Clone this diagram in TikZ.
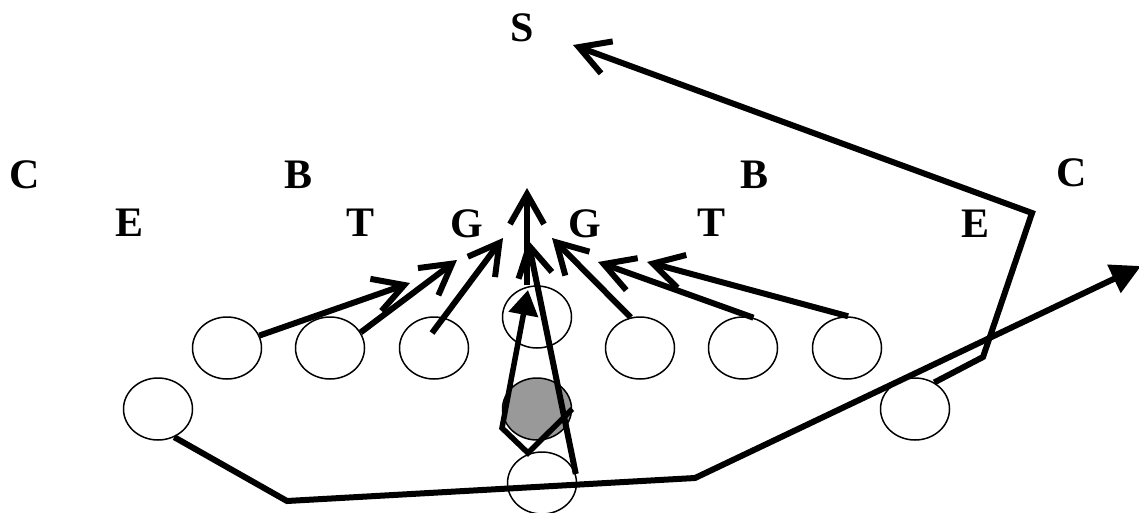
\documentclass[tikz,border=0pt]{standalone}
\usepackage{fontspec}
\setmainfont{Liberation Serif}
\usetikzlibrary{shapes.geometric,arrows.meta,calc}

\begin{document}
\begin{tikzpicture}[x=1pt,y=-1pt,
    player/.style={ellipse,draw,line width=1.5pt,minimum width=69pt,minimum height=62pt,inner sep=0pt},
    ball/.style={player,fill=black!40},
    letter/.style={font=\fontsize{42}{50}\selectfont\bfseries,inner sep=0pt},
    run/.style={line width=6pt,-{Straight Barb[length=30pt,width=34pt]}},
    route/.style={line width=6pt,-{Triangle[length=30pt,width=30pt]}}]
    \useasboundingbox (0,0) rectangle (1139,513);

    % Defense
    \node[letter] (ss) at (522,28) {S};
    \node[letter] (cl) at (25,175) {C};
    \node[letter] (bl) at (299,175) {B};
    \node[letter] (br) at (754,175) {B};
    \node[letter] (cr) at (1072,173) {C};
    \node[letter] (el) at (130,223) {E};
    \node[letter] (tl) at (361,223) {T};
    \node[letter] (gl) at (467,224) {G};
    \node[letter] (gr) at (585,224) {G};
    \node[letter] (tr) at (711,223) {T};
    \node[letter] (er) at (975,224) {E};

    % Offense
    \node[player] (l1) at (227,348) {};
    \node[player] (l2) at (330,348) {};
    \node[player] (l3) at (434,348) {};
    \node[player] (cn) at (537,317) {};
    \node[player] (r1) at (640,348) {};
    \node[player] (r2) at (743,348) {};
    \node[player] (r3) at (847,348) {};
    \node[player] (wl) at (158,409) {};
    \node[player] (wr) at (915,409) {};
    \node[ball] (qb) at (537,409) {};
    \node[player] (fb) at (542,483) {};

    % Route points
    \coordinate (t1) at (410,283);
    \coordinate (t2) at (457,260);
    \coordinate (t3) at (503,238);
    \coordinate (t4) at (527,188);
    \coordinate (t5) at (528,240);
    \coordinate (u1) at (552,238);
    \coordinate (u2) at (598,262);
    \coordinate (u3) at (647,262);
    \coordinate (k1) at (528,453);
    \coordinate (k2) at (502,428);
    \coordinate (qt) at (528,290);
    \coordinate (s1) at (983,357);
    \coordinate (s2) at (1032,213);
    \coordinate (st) at (573,45);
    \coordinate (b1) at (287,501);
    \coordinate (b2) at (695,478);
    \coordinate (bt) at (1141,266);

    % Blocking
    \draw[run] (l1.21) -- (t1);
    \draw[run] (l2.27) -- (t2);
    \draw[run] ($(l3)+(-2,-15)$) -- (t3);
    \draw[run] (cn.north -| t4) -- (t4);
    \draw[run] (r1.107) -- (u1);
    \draw[run] (r2.71) -- (u2);
    \draw[run] (r3.88) -- (u3);

    % Backfield
    \draw[run] (fb.15) -- (t5);
    \draw[line width=5.5pt,-{Triangle[length=25pt,width=29pt]}] (qb.0) -- (k1) -- (k2) -- (qt);
    \draw[run] (wr.54) -- (s1) -- (s2) -- (st);
    \draw[route] (wl.-60) -- (b1) -- (b2) -- (bt);
\end{tikzpicture}
\end{document}
